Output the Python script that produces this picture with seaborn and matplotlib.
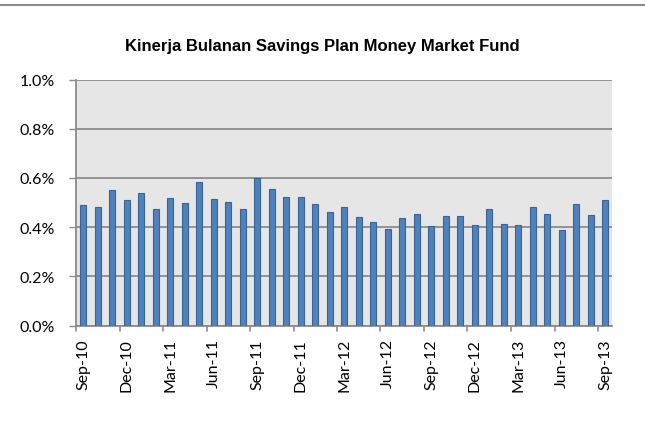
import matplotlib
matplotlib.use("Agg")
import matplotlib.pyplot as plt
import seaborn as sns
import pandas as pd
import numpy as np
from matplotlib.ticker import FixedLocator, FuncFormatter

months = ["Sep-10", "Oct-10", "Nov-10", "Dec-10", "Jan-11", "Feb-11", "Mar-11", "Apr-11",
          "May-11", "Jun-11", "Jul-11", "Aug-11", "Sep-11", "Oct-11", "Nov-11", "Dec-11",
          "Jan-12", "Feb-12", "Mar-12", "Apr-12", "May-12", "Jun-12", "Jul-12", "Aug-12",
          "Sep-12", "Oct-12", "Nov-12", "Dec-12", "Jan-13", "Feb-13", "Mar-13", "Apr-13",
          "May-13", "Jun-13", "Jul-13", "Aug-13", "Sep-13"]
returns = [0.488, 0.480, 0.550, 0.510, 0.538, 0.473, 0.518, 0.496, 0.584, 0.516,
           0.503, 0.473, 0.599, 0.554, 0.522, 0.522, 0.495, 0.462, 0.482, 0.441,
           0.421, 0.394, 0.437, 0.455, 0.405, 0.446, 0.446, 0.410, 0.475, 0.413,
           0.408, 0.482, 0.455, 0.387, 0.492, 0.448, 0.510]
yticks = [0.0, 0.2, 0.4, 0.6, 0.8, 1.0]
title = "Kinerja Bulanan Savings Plan Money Market Fund"

df = pd.DataFrame({"month": months, "ret": returns})

sns.set_theme(style="white")
plt.rcParams["font.family"] = ["Lato", "DejaVu Sans"]

fig = plt.figure(figsize=(6.45, 4.31), dpi=100)
ax = fig.add_axes([76 / 645, 1 - 326.5 / 431, (612.5 - 76) / 645, (326.5 - 80.5) / 431])

sns.barplot(data=df, x="month", y="ret", ax=ax, color="#4F81BD", width=0.42,
            edgecolor="#3A6496", linewidth=0.8, saturation=1, zorder=3)

ax.set_facecolor("#E6E6E6")
ax.set_ylim(0, 1.0)
ax.set_xlim(-0.5, len(months) - 0.5)
ax.set_yticks(yticks)
ax.yaxis.set_major_formatter(FuncFormatter(lambda v, p: f"{v:.1f}%"))
ax.grid(axis="y", color="#8C8C8C", linewidth=1.3, zorder=0)
ax.set_axisbelow(True)

# x ticks: labels at every 3rd bar centre, tick marks at boundaries
label_pos = list(range(0, len(months), 3))
ax.set_xticks(label_pos)
ax.set_xticklabels([months[i] for i in label_pos], rotation=90, fontsize=11.5, color="#000000")
ax.tick_params(axis="x", which="major", length=0, pad=9)
bounds_major = [i - 0.5 for i in range(0, len(months) + 1, 3)]
bounds_minor = [i - 0.5 for i in range(0, len(months) + 1)]
ax.xaxis.set_minor_locator(FixedLocator(bounds_minor))
ax.tick_params(axis="x", which="minor", length=3, width=1, color="#8C8C8C", direction="out")
for b in bounds_major:
    ax.plot([b, b], [0, -0.022], color="#8C8C8C", linewidth=1.2, clip_on=False, zorder=5)

ax.tick_params(axis="y", which="major", length=5, width=1, color="#8C8C8C", labelsize=11.5,
               labelcolor="#000000", left=True, pad=10)
ax.set_xlabel("")
ax.set_ylabel("")

for s in ["top", "right"]:
    ax.spines[s].set_visible(False)
for s in ["left", "bottom"]:
    ax.spines[s].set_color("#8C8C8C")
    ax.spines[s].set_linewidth(1.3)

fig.text(0.5, 1 - 46 / 431, title, ha="center", va="center", fontsize=12,
         fontweight="bold", family=["Liberation Sans", "DejaVu Sans"], color="#000000")

# top border line of the chart frame
fig.add_artist(plt.Line2D([0, 1], [1 - 5.5 / 431, 1 - 5.5 / 431], color="#8C8C8C",
                          linewidth=1.5, transform=fig.transFigure))

fig.savefig("out.png", dpi=100)
